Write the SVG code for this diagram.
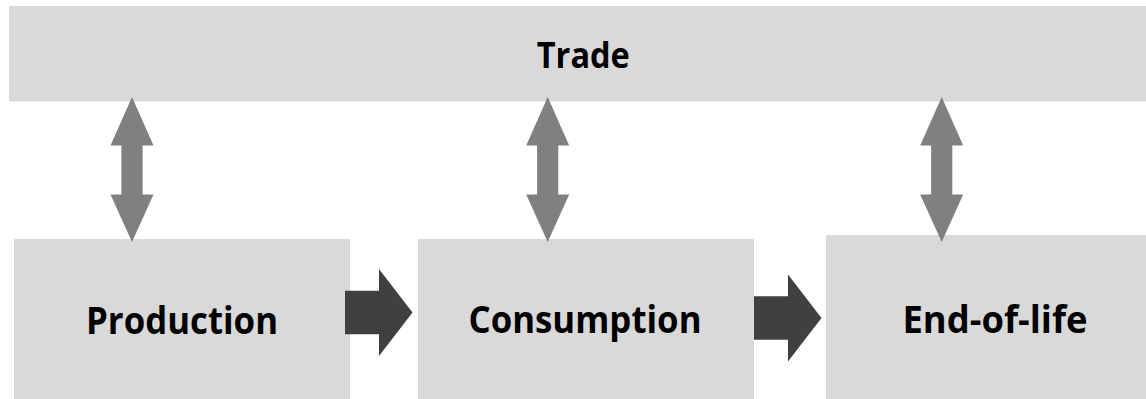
<svg xmlns="http://www.w3.org/2000/svg" xmlns:xlink="http://www.w3.org/1999/xlink" width="1146" height="399" viewBox="0 0 1146 399">
<style>
.box{fill:#D9D9D9;}
.lbl{font-family:"Open Sans","Noto Sans","Liberation Sans",sans-serif;font-weight:bold;fill:#000;text-anchor:middle;}
.varrow{fill:#808080;}
.harrow{fill:#404040;}
</style>
<defs>
<path id="vArrow" d="M0,97 L21.5,145.5 L10.6,145.5 L10.6,194.5 L21.5,194.5 L0,242 L-21.5,194.5 L-10.6,194.5 L-10.6,145.5 L-21.5,145.5 Z"/>
<path id="hArrow" d="M0,-21.7 L34,-21.7 L34,-43.5 L67.5,0 L34,43.5 L34,21.7 L0,21.7 Z"/>
</defs>
<rect width="1146" height="399" fill="#FFFFFF"/>
<g id="trade">
<rect class="box" x="9" y="6" width="1137" height="95.5"/>
<text class="lbl" x="583.3" y="68.3" font-size="35.5" textLength="93" lengthAdjust="spacingAndGlyphs">Trade</text>
</g>
<g id="production">
<rect class="box" x="14" y="239" width="336" height="160"/>
<text class="lbl" x="182" y="334.3" font-size="38" textLength="192" lengthAdjust="spacingAndGlyphs">Production</text>
</g>
<g id="consumption">
<rect class="box" x="418" y="239" width="336" height="160"/>
<text class="lbl" x="585" y="333.3" font-size="38" textLength="233" lengthAdjust="spacingAndGlyphs">Consumption</text>
</g>
<g id="end-of-life">
<rect class="box" x="826" y="235" width="320" height="164"/>
<text class="lbl" x="995" y="332.5" font-size="38" textLength="185" lengthAdjust="spacingAndGlyphs">End-of-life</text>
</g>
<g id="connectors">
<use xlink:href="#vArrow" href="#vArrow" class="varrow" transform="translate(132,0)"/>
<use xlink:href="#vArrow" href="#vArrow" class="varrow" transform="translate(547.7,0)"/>
<use xlink:href="#vArrow" href="#vArrow" class="varrow" transform="translate(941.7,0)"/>
<use xlink:href="#hArrow" href="#hArrow" class="harrow" transform="translate(345,312.5)"/>
<use xlink:href="#hArrow" href="#hArrow" class="harrow" transform="translate(754,318)"/>
</g>
</svg>
